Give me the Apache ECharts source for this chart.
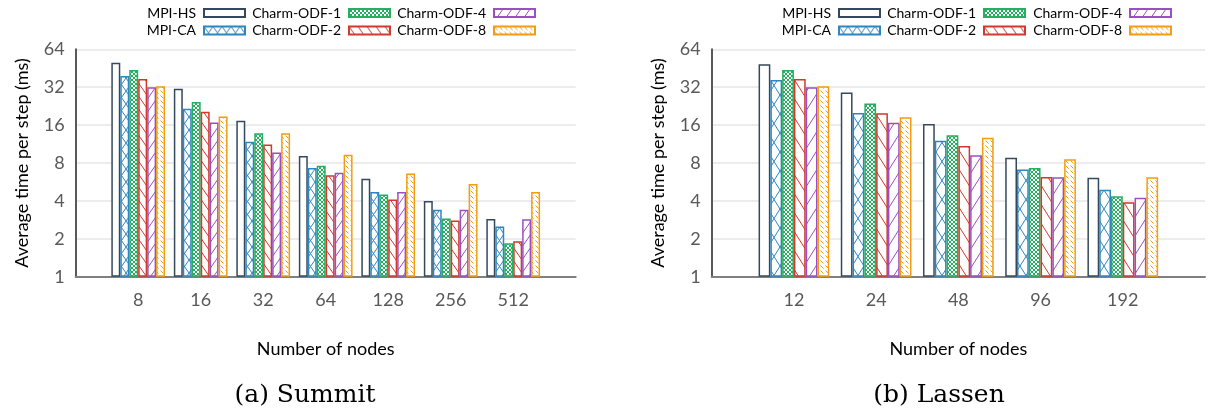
<!DOCTYPE html>
<html>
<head>
<meta charset="utf-8">
<script src="https://cdn.jsdelivr.net/npm/echarts@6/dist/echarts.min.js"></script>
<style>
  html, body { margin: 0; padding: 0; background: #fff; }
  #chart { width: 1208px; height: 410px; }
</style>
</head>
<body>
<div id="chart"></div>
<script>
// ---------------- data ----------------
const seriesNames = ['MPI-HS', 'MPI-CA', 'Charm-ODF-1', 'Charm-ODF-2', 'Charm-ODF-4', 'Charm-ODF-8'];
const yTickLabels = [1, 2, 4, 8, 16, 32, 64];

const summitNodes = ['8', '16', '32', '64', '128', '256', '512'];
const summitMpiHs   = [50.1, 31.1, 17.3, 9.1, 6.0, 4.0, 2.87];
const summitMpiCa   = [39.3, 21.6, 11.8, 7.3, 4.7, 3.4, 2.5];
const summitOdf1    = [43.8, 24.4, 13.8, 7.6, 4.5, 2.9, 1.84];
const summitOdf2    = [37.2, 20.4, 11.2, 6.4, 4.1, 2.8, 1.91];
const summitOdf4    = [31.9, 16.8, 9.7, 6.7, 4.7, 3.4, 2.86];
const summitOdf8    = [32.5, 18.7, 13.8, 9.3, 6.6, 5.45, 4.7];

const lassenNodes = ['12', '24', '48', '96', '192'];
const lassenMpiHs   = [48.6, 29.1, 16.3, 8.8, 6.1];
const lassenMpiCa   = [36.5, 20.0, 12.0, 7.1, 4.9];
const lassenOdf1    = [43.8, 23.8, 13.3, 7.3, 4.35];
const lassenOdf2    = [37.2, 19.9, 10.9, 6.2, 3.9];
const lassenOdf4    = [31.9, 16.7, 9.2, 6.16, 4.24];
const lassenOdf8    = [32.5, 18.5, 12.7, 8.56, 6.16];

// ---------------- styles ----------------
const colors = ['#34495E', '#2E86C1', '#27AE60', '#D0392B', '#9B4FC0', '#F39C12'];
const kinds = ['none', 'cross', 'dense', 'back', 'fwd', 'dash'];
const SANS = 'Lato';

function makeTile(kind, color, w, h) {
  const c = document.createElement('canvas');
  const ctx = c.getContext('2d');
  if (kind === 'dense') { w = 4; h = 4; }
  if (kind === 'dash') { w = 5; h = 5; }
  c.width = w; c.height = h;
  ctx.fillStyle = '#ffffff';
  ctx.fillRect(0, 0, w, h);
  ctx.strokeStyle = color;
  ctx.lineWidth = 1;
  ctx.beginPath();
  const back = () => { for (let k = -1; k <= 1; k++) { ctx.moveTo(-w, -h + k * h); ctx.lineTo(2 * w, 2 * h + k * h); } };
  const fwd = () => { for (let k = -1; k <= 1; k++) { ctx.moveTo(-w, 2 * h + k * h); ctx.lineTo(2 * w, -h + k * h); } };
  if (kind === 'cross' || kind === 'dense') { back(); fwd(); }
  else if (kind === 'back') back();
  else if (kind === 'fwd') fwd();
  else if (kind === 'dash') { ctx.moveTo(0.5, 0.5); ctx.lineTo(3.5, 3.5); }
  ctx.stroke();
  return c;
}

function fillFor(i, w, h) {
  if (kinds[i] === 'none') return '#ffffff';
  return { image: makeTile(kinds[i], colors[i], w, h), repeat: 'repeat' };
}

function buildSeries(valuesList, gridIdx, tileW, tileH) {
  return valuesList.map((vals, i) => ({
    name: seriesNames[i],
    type: 'bar',
    xAxisIndex: gridIdx,
    yAxisIndex: gridIdx,
    data: ['-'].concat(vals).concat(['-']),
    barGap: '0%',
    barCategoryGap: '14%',
    itemStyle: { color: fillFor(i, tileW, tileH), borderColor: colors[i], borderWidth: 1.5 },
    emphasis: { disabled: true },
    animation: false
  }));
}

const summitSeries = buildSeries([summitMpiHs, summitMpiCa, summitOdf1, summitOdf2, summitOdf4, summitOdf8], 0, 9, 13);
const lassenSeries = buildSeries([lassenMpiHs, lassenMpiCa, lassenOdf1, lassenOdf2, lassenOdf4, lassenOdf8], 1, 12, 19);

function xAxisFor(gridIdx, cats) {
  return {
    type: 'category',
    gridIndex: gridIdx,
    data: [''].concat(cats).concat(['']),
    boundaryGap: false,
    axisLine: { show: true, lineStyle: { color: '#808080', width: 2 } },
    axisTick: { show: false },
    axisLabel: { interval: 0, margin: 14, color: '#595959', fontFamily: SANS, fontSize: 18 },
    splitLine: { show: false },
    name: 'Number of nodes',
    nameLocation: 'middle',
    nameGap: 63,
    nameTextStyle: { fontFamily: SANS, fontSize: 18, color: '#000' }
  };
}

function yAxisFor(gridIdx) {
  return {
    type: 'log',
    logBase: 2,
    gridIndex: gridIdx,
    min: yTickLabels[0],
    max: yTickLabels[yTickLabels.length - 1],
    splitNumber: yTickLabels.length - 1,
    axisLine: { show: true, lineStyle: { color: '#595959', width: 2 } },
    axisTick: { show: false },
    axisLabel: {
      margin: 11, color: '#595959', fontFamily: SANS, fontSize: 18,
      formatter: v => String(Math.round(v))
    },
    splitLine: { show: true, lineStyle: { color: '#e6e6e6', width: 1.5 } },
    name: 'Average time per step (ms)',
    nameLocation: 'middle',
    nameRotate: 90,
    nameGap: 45,
    nameTextStyle: { fontFamily: SANS, fontSize: 18, color: '#000' }
  };
}

function legendCol(names, rightPx) {
  return {
    data: names,
    orient: 'vertical',
    align: 'right',
    right: rightPx,
    top: 6,
    padding: 0,
    itemWidth: 41,
    itemHeight: 8,
    itemGap: 3.4,
    icon: 'rect',
    selectedMode: false,
    textStyle: { fontFamily: SANS, fontSize: 14, color: '#000', lineHeight: 14, padding: [0, 3, 0, 0] }
  };
}

const option = {
  backgroundColor: '#ffffff',
  animation: false,
  grid: [
    { left: 75.7, top: 49.3, width: 500, height: 227.4 },
    { left: 711.7, top: 49.3, width: 500, height: 227.4 }
  ],
  xAxis: [xAxisFor(0, summitNodes), xAxisFor(1, lassenNodes)],
  yAxis: [yAxisFor(0), yAxisFor(1)],
  legend: [
    legendCol(['MPI-HS', 'MPI-CA'], 962),
    legendCol(['Charm-ODF-1', 'Charm-ODF-2'], 817),
    legendCol(['Charm-ODF-4', 'Charm-ODF-8'], 672),
    legendCol(['MPI-HS', 'MPI-CA'], 327),
    legendCol(['Charm-ODF-1', 'Charm-ODF-2'], 182),
    legendCol(['Charm-ODF-4', 'Charm-ODF-8'], 36)
  ],
  graphic: [
    { type: 'text', x: 305, y: 395, style: { text: '(a) Summit', textAlign: 'center', textVerticalAlign: 'middle', font: '25px "DejaVu Serif"', fill: '#000' } },
    { type: 'text', x: 939, y: 395, style: { text: '(b) Lassen', textAlign: 'center', textVerticalAlign: 'middle', font: '25px "DejaVu Serif"', fill: '#000' } }
  ],
  series: summitSeries.concat(lassenSeries)
};

const chart = echarts.init(document.getElementById('chart'), null, { renderer: 'canvas' });
chart.setOption(option);
</script>
</body>
</html>
